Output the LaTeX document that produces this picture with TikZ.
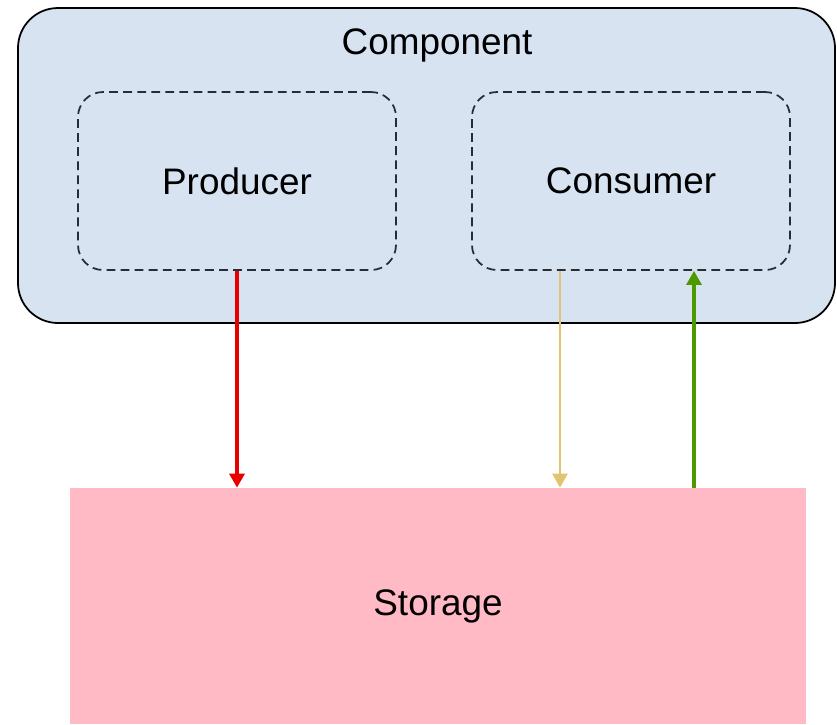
\documentclass[tikz,border=0pt]{standalone}
\usepackage{fontspec}
\setmainfont{Liberation Sans}
\usepackage{xcolor}
\usepackage{tikz}
\usetikzlibrary{arrows.meta,calc,positioning}

\definecolor{compblue}{RGB}{215,227,241}
\definecolor{storepink}{RGB}{255,186,198}
\definecolor{dashgray}{RGB}{40,44,52}
\definecolor{wirered}{RGB}{232,0,0}
\definecolor{wiregold}{RGB}{226,196,112}
\definecolor{wiregreen}{RGB}{77,153,0}

\tikzset{
  comp/.style={draw=black, fill=compblue, line width=1pt, rounded corners=0.8cm,
    minimum width=16.34cm, minimum height=6.3cm},
  part/.style={draw=dashgray, line width=1pt, dash pattern=on 5pt off 3pt,
    rounded corners=0.5cm, minimum width=6.36cm, minimum height=3.56cm},
  store/.style={fill=storepink, minimum width=14.72cm, minimum height=4.72cm},
  wire/.style={line width=1.8pt, -{Triangle[length=0.28cm,width=0.3cm]}},
}

\begin{document}
\begin{tikzpicture}[font=\fontsize{21}{25}\selectfont]
  % Define coordinates
  \useasboundingbox (0,0) rectangle (16.74,-14.48);
  \node[comp] (component) at (8.53,-3.31) {};
  \node (comptitle) at (8.74,-0.9) {Component};
  \node[part] (prod) at (4.74,-3.62) {Producer};
  \node[part] (cons) at (12.62,-3.62) {Consumer};
  \node[store] (stor) at (8.76,-12.12) {Storage};

  \coordinate (cread) at ($(cons.south)+(-1.42,0)$);
  \coordinate (cack) at ($(cons.south)+(1.26,0)$);

  \draw[wire, wirered] (prod.south) -- (prod.south |- stor.north);
  \draw[wire, wiregold, line width=1.4pt] (cread) -- (cread |- stor.north);
  \draw[wire, wiregreen] (cack |- stor.north) -- (cack);
\end{tikzpicture}
\end{document}
